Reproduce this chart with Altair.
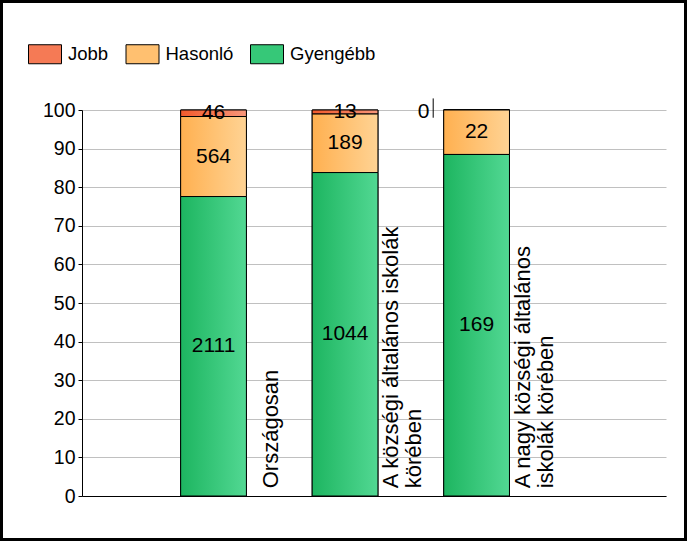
import altair as alt
import pandas as pd

# ---- data ----
categories = ["Országosan",
              "A községi általános iskolák körében",
              "A nagy községi általános iskolák körében"]
cat_labels = ["Országosan",
              "A községi általános iskolák\nkörében",
              "A nagy községi általános\niskolák körében"]
series = ["Jobb", "Hasonló", "Gyengébb"]
jobb = [46, 13, 0]
hasonlo = [564, 189, 22]
gyengebb = [2111, 1044, 169]
y_ticks = [0, 10, 20, 30, 40, 50, 60, 70, 80, 90, 100]

solid = {"Jobb": "#f57a55", "Hasonló": "#ffc070", "Gyengébb": "#36c878"}
grad = {"Jobb": ("#f25a2c", "#f8967a"),
        "Hasonló": ("#ffb050", "#ffd394"),
        "Gyengébb": ("#1db560", "#52d893")}
stack_order = {"Gyengébb": 0, "Hasonló": 1, "Jobb": 2}

FONT = "Liberation Sans"

rows = []
for i, cat in enumerate(categories):
    for s, vals in zip(series, [jobb, hasonlo, gyengebb]):
        rows.append({"idx": i + 1, "cat": cat, "label": cat_labels[i],
                     "nlines": cat_labels[i].count("\n") + 1,
                     "series": s, "value": vals[i], "ord": stack_order[s]})
df = pd.DataFrame(rows)

xscale = alt.Scale(domain=[0, 4.44], nice=False, zero=False)
yscale = alt.Scale(domain=[0, 100], nice=False)

base = alt.Chart(df).transform_joinaggregate(
    total="sum(value)", groupby=["idx"]
).transform_calculate(
    pct="datum.value / datum.total * 100"
).transform_stack(
    stack="pct", groupby=["idx"], as_=["y0", "y1"],
    sort=[alt.SortField("ord", order="ascending")]
).transform_calculate(
    mid="(datum.y0 + datum.y1) / 2",
    xl="datum.idx - 0.25",
    xr="datum.idx + 0.25",
    xlab="datum.idx + 0.45 - datum.nlines * 0.0875",
    xlead="datum.idx - 0.33",
    lead_top="datum.y1 + 3",
    lead_bot="datum.y1 - 2",
)

X_AXIS = alt.Axis(labels=False, ticks=False, grid=False, title=None,
                  domainColor="black", domainWidth=1)
Y_AXIS = alt.Axis(values=y_ticks, tickCount=20, title=None, grid=True,
                  gridColor="#c0c0c0", gridWidth=1, domainColor="black",
                  tickColor="black", tickSize=4, labelFont=FONT,
                  labelFontSize=19.5, labelColor="black", labelPadding=3,
                  labelOverlap=False)

rect_symbol = "M-1,-0.576H1V0.576H-1Z"

bars = base.mark_rect(stroke="black", strokeWidth=1).encode(
    x=alt.X("xl:Q", scale=xscale, axis=X_AXIS),
    x2="xr:Q",
    y=alt.Y("y0:Q", scale=yscale, axis=Y_AXIS),
    y2="y1:Q",
    color=alt.Color(
        "series:N",
        scale=alt.Scale(domain=series, range=[solid[s] for s in series]),
        legend=alt.Legend(
            title=None, orient="none", legendX=-54, legendY=-73,
            direction="horizontal", symbolType=rect_symbol, symbolSize=1089,
            symbolStrokeColor="black", symbolStrokeWidth=1,
            labelFont=FONT, labelFontSize=18.5, labelColor="black",
            labelOffset=6, columnPadding=14.5, padding=0,
        ),
    ),
)

grad_layers = []
for s in series:
    g = alt.Gradient(gradient="linear",
                     stops=[alt.GradientStop(color=grad[s][0], offset=0),
                            alt.GradientStop(color=grad[s][1], offset=1)],
                     x1=0, x2=1, y1=0, y2=0)
    grad_layers.append(
        base.transform_filter(alt.datum.series == s)
        .mark_rect(color=g, stroke="black", strokeWidth=1)
        .encode(x=alt.X("xl:Q", scale=xscale, axis=X_AXIS), x2="xr:Q",
                y=alt.Y("y0:Q", scale=yscale, axis=Y_AXIS), y2="y1:Q")
    )

values_text = base.transform_filter(alt.datum.value > 0).mark_text(
    font=FONT, fontSize=21, color="black", baseline="middle", align="center"
).encode(x=alt.X("idx:Q", scale=xscale, axis=X_AXIS),
         y=alt.Y("mid:Q", scale=yscale, axis=Y_AXIS), text="value:Q")

zero_text = base.transform_filter(alt.datum.value == 0).mark_text(
    font=FONT, fontSize=21, color="black", baseline="middle", align="center",
    dx=-53, dy=2
).encode(x=alt.X("idx:Q", scale=xscale, axis=X_AXIS),
         y=alt.Y("mid:Q", scale=yscale, axis=Y_AXIS), text="value:Q")

zero_lead = base.transform_filter(alt.datum.value == 0).mark_rule(
    color="black", strokeWidth=1
).encode(x=alt.X("xlead:Q", scale=xscale, axis=X_AXIS),
         y=alt.Y("lead_top:Q", scale=yscale, axis=Y_AXIS), y2="lead_bot:Q")

cat_text = base.transform_filter(alt.datum.series == "Gyengébb").mark_text(
    font=FONT, fontSize=22, color="black", angle=270, align="left",
    baseline="top", lineBreak="\n", lineHeight=23
).encode(x=alt.X("xlab:Q", scale=xscale, axis=X_AXIS),
         y=alt.Y(datum=2, scale=yscale, axis=Y_AXIS), text="label:N")

frame = alt.Chart(pd.DataFrame({"a": [0]})).mark_rect(
    fillOpacity=0, stroke="black", strokeWidth=3
).encode(x=alt.value(-80.5), x2=alt.value(603.5),
         y=alt.value(-108.5), y2=alt.value(429.5))

chart = alt.layer(
    bars, *grad_layers, values_text, zero_text, zero_lead, cat_text, frame
).properties(
    width=584, height=386,
    padding={"left": 82, "top": 110, "right": 21, "bottom": 45},
    autosize=alt.AutoSizeParams(type="none"),
    background="white",
).configure_view(stroke=None)

chart.save("out.html", embed_options={"renderer": "svg", "actions": False})
